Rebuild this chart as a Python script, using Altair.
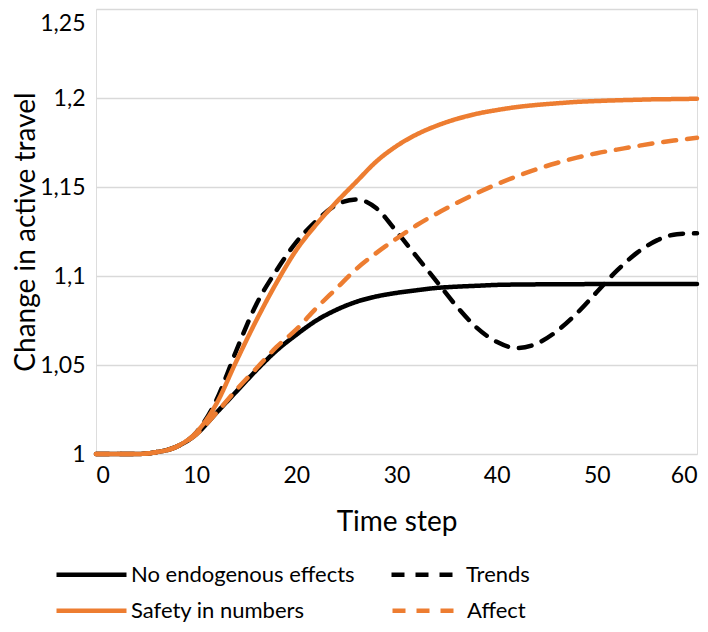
import altair as alt
import pandas as pd

steps = list(range(0, 61, 2))

series_names = ["No endogenous effects", "Trends", "Safety in numbers", "Affect"]

no_endogenous = [1, 1, 1, 1.001, 1.004, 1.011, 1.023, 1.035, 1.047, 1.058, 1.067, 1.075, 1.081,
                 1.0855, 1.0885, 1.0905, 1.092, 1.0933, 1.094, 1.0945, 1.095, 1.0952, 1.0953,
                 1.0954, 1.0954, 1.0955, 1.0955, 1.0955, 1.0955, 1.0955, 1.0955]
trends = [1, 1, 1, 1.001, 1.004, 1.012, 1.030, 1.058, 1.084, 1.103, 1.119, 1.131, 1.140,
          1.143, 1.138, 1.125, 1.111, 1.097, 1.083, 1.071, 1.063, 1.0595, 1.062, 1.069,
          1.079, 1.091, 1.103, 1.113, 1.120, 1.1235, 1.124]
safety = [1, 1, 1, 1.001, 1.004, 1.012, 1.028, 1.052, 1.075, 1.096, 1.1146, 1.129, 1.1415,
          1.153, 1.1644, 1.173, 1.1795, 1.1844, 1.1882, 1.1911, 1.1932, 1.1949, 1.1961, 1.197,
          1.1978, 1.1983, 1.1987, 1.199, 1.1993, 1.1994, 1.1996]
affect = [1, 1, 1, 1.001, 1.004, 1.011, 1.023, 1.036, 1.048, 1.060, 1.070, 1.082, 1.093,
          1.104, 1.113, 1.121, 1.1285, 1.135, 1.141, 1.1465, 1.1515, 1.156, 1.160, 1.1635,
          1.1665, 1.169, 1.171, 1.173, 1.1748, 1.1763, 1.1777]

x_ticks = [0, 10, 20, 30, 40, 50, 60]
y_ticks = [1, 1.05, 1.1, 1.15, 1.2, 1.25]

BLACK = "#000000"
ORANGE = "#ED7D31"
SOLID = [1, 0]
DASH = [13, 11]

rows = []
for name, vals in zip(series_names, [no_endogenous, trends, safety, affect]):
    for s, v in zip(steps, vals):
        rows.append({"step": s, "value": v, "series": name})
df = pd.DataFrame(rows)

FONT = "Lato"


def make_legend(legend_y, col_pad):
    return alt.Legend(
        title=None,
        orient="none",
        direction="horizontal",
        legendX=-42,
        legendY=legend_y,
        columns=2,
        columnPadding=col_pad,
        padding=0,
        symbolType="stroke",
        symbolSize=4900,
        symbolStrokeWidth=4.5,
        labelFontSize=22,
        labelFont=FONT,
        labelColor="#000000",
        labelOffset=2,
        labelLimit=400,
    )


x_enc = alt.X("step:Q",
              scale=alt.Scale(domain=[0, 60], nice=False),
              axis=alt.Axis(values=x_ticks, title="Time step", grid=False, domain=False, ticks=False,
                            labelFontSize=23, labelFont=FONT, labelColor="#000000", labelPadding=10,
                            titleFontSize=28, titleFont=FONT, titleFontWeight="normal",
                            titleColor="#000000", titleY=68, titleBaseline="middle"))
y_enc = alt.Y("value:Q",
              scale=alt.Scale(domain=[1, 1.25], nice=False, zero=False),
              axis=alt.Axis(values=y_ticks, title="Change in active travel", grid=True,
                            gridColor="#d9d9d9", gridWidth=1.5, domain=False, ticks=False,
                            labelExpr="replace(format(datum.value, ''), '.', ',')",
                            labelBaseline={"condition": {"test": "datum.value > 1.24", "value": "top"},
                                           "value": "middle"},
                            labelOffset={"condition": {"test": "datum.value > 1.24", "value": 3},
                                         "value": 0},
                            labelFontSize=23, labelFont=FONT, labelColor="#000000", labelPadding=11,
                            titleFontSize=28, titleFont=FONT, titleFontWeight="normal",
                            titleColor="#000000", titleX=-62, titleY=222.5, titleAngle=270,
                            titleBaseline="alphabetic", titleAlign="center"))

base = alt.Chart(df).mark_line(strokeWidth=4.5, strokeCap="round", interpolate="monotone")

black_names = [series_names[0], series_names[1]]
orange_names = [series_names[2], series_names[3]]

leg1 = make_legend(528, 27)
leg2 = make_legend(564, 78)

black_layer = base.transform_filter(
    alt.FieldOneOfPredicate(field="series", oneOf=black_names)
).encode(
    x=x_enc, y=y_enc,
    color=alt.Color("series:N", scale=alt.Scale(domain=black_names, range=[BLACK, BLACK]), legend=leg1),
    strokeDash=alt.StrokeDash("series:N", scale=alt.Scale(domain=black_names, range=[SOLID, DASH]), legend=leg1),
)

orange_layer = base.transform_filter(
    alt.FieldOneOfPredicate(field="series", oneOf=orange_names)
).encode(
    x=x_enc, y=y_enc,
    color=alt.Color("series:N", scale=alt.Scale(domain=orange_names, range=[ORANGE, ORANGE]), legend=leg2),
    strokeDash=alt.StrokeDash("series:N", scale=alt.Scale(domain=orange_names, range=[SOLID, DASH]), legend=leg2),
)

chart = alt.layer(black_layer, orange_layer).resolve_scale(
    color="independent", strokeDash="independent"
).resolve_legend(
    color="independent", strokeDash="independent"
).properties(
    width=601,
    height=445,
    autosize=alt.AutoSizeParams(type="none"),
    padding={"left": 88, "top": 1, "right": 3, "bottom": 170},
).configure_view(stroke=None).configure(background="#ffffff")

chart.save("out.html", embed_options={"renderer": "svg", "actions": False})
